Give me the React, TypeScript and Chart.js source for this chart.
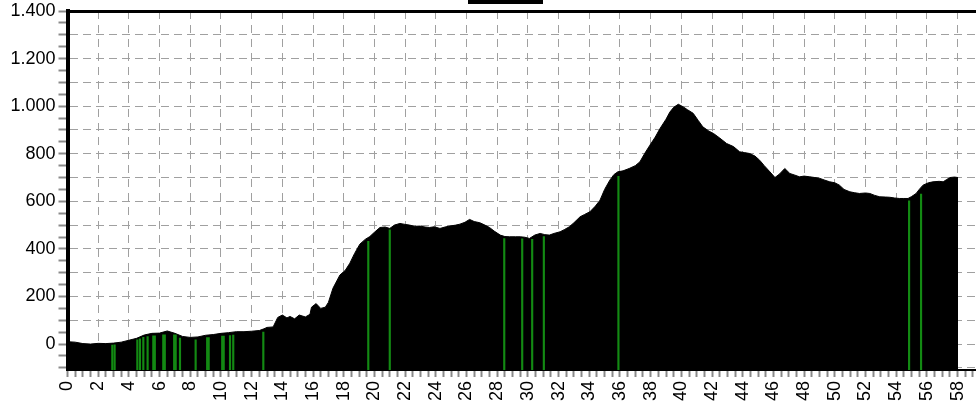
import React, { useEffect, useRef } from "react";
import { Chart, registerables } from "chart.js";

Chart.register(...registerables);

// Distance along the route (km)
const KM = [
  0, 0.5, 1.0, 1.5, 2.0, 2.5, 3.0, 3.5, 4.0, 4.5, 5.0, 5.5, 6.0, 6.5, 7.0, 7.5, 8.0, 8.5, 9.0, 9.5,
  10.0, 10.5, 11.0, 11.5, 12.0, 12.5, 12.8, 13.0, 13.4, 13.7, 14.0, 14.3, 14.5, 14.8, 15.1, 15.5, 15.8, 15.9, 16.2, 16.5,
  16.8, 17.0, 17.3, 17.75, 18.1, 18.4, 18.7, 19.05, 19.4, 19.7, 20.0, 20.36, 20.7, 21.0, 21.3, 21.66, 22.0, 22.3, 22.6, 22.96,
  23.3, 23.6, 23.9, 24.27, 24.6, 24.9, 25.3, 25.57, 25.9, 26.2, 26.5, 26.87, 27.2, 27.5, 27.8, 28.2, 28.5, 28.8, 29.2, 29.5,
  29.8, 30.1, 30.45, 30.8, 31.1, 31.4, 31.7, 32.1, 32.4, 32.7, 33.0, 33.4, 33.7, 34.04, 34.4, 34.7, 35.0, 35.34, 35.6, 35.86,
  36.2, 36.6, 37.0, 37.3, 37.6, 37.95, 38.3, 38.6, 39.0, 39.25, 39.5, 39.8, 40.1, 40.4, 40.77, 41.1, 41.4, 41.8, 42.1, 42.5,
  42.95, 43.4, 43.8, 44.1, 44.45, 44.8, 45.1, 45.4, 45.77, 46.1, 46.4, 46.74, 47.07, 47.4, 47.7, 48.0, 48.37, 48.7, 49.0, 49.3,
  49.67, 50.0, 50.3, 50.6, 50.98, 51.3, 51.6, 52.0, 52.28, 52.6, 52.93, 53.3, 53.58, 53.9, 54.2, 54.5, 54.77, 55.0, 55.3, 55.5,
  55.75, 56.1, 56.4, 56.8, 57.06, 57.3, 57.5, 57.8, 58.03,
];

// Elevation (m)
const ELEVATION = [
  10, 8, 2, 0, 3, 2, 4, 8, 16, 24, 38, 45, 46, 55, 45, 32, 28, 30, 37, 40,
  45, 48, 52, 52, 54, 57, 64, 70, 72, 112, 122, 110, 116, 106, 122, 114, 125, 155, 170, 150,
  155, 175, 235, 290, 310, 340, 380, 420, 440, 452, 470, 490, 492, 486, 500, 507, 503, 500, 495, 496,
  492, 490, 493, 486, 492, 496, 500, 504, 512, 524, 515, 510, 500, 490, 475, 458, 452, 451, 451, 451,
  449, 444, 458, 465, 460, 458, 465, 472, 482, 493, 510, 535, 545, 556, 580, 605, 650, 689, 712, 724,
  728, 738, 750, 766, 800, 836, 870, 905, 945, 975, 995, 1008, 998, 985, 970, 940, 913, 895, 885, 866,
  843, 830, 808, 805, 801, 790, 773, 750, 724, 700, 715, 738, 717, 710, 703, 706, 703, 700, 697, 690,
  682, 678, 668, 650, 640, 636, 633, 635, 633, 625, 619, 618, 617, 614, 612, 612, 612, 620, 633, 650,
  668, 678, 682, 684, 682, 692, 700, 702, 700,
];

// Green waypoint markers (thin): position (km) and top (m)
const MARKER_KM = [
  2.92, 3.07, 4.55, 4.72, 4.94, 5.22, 7.33, 8.35, 10.59, 10.8, 12.76,
  19.6, 21.0, 28.46, 29.63, 30.28, 31.04, 35.9, 54.84, 55.62,
];
const MARKER_TOP = [
  -4, -3, 18, 22, 28, 32, 25, 18, 36, 38, 50,
  432, 480, 443, 442, 440, 452, 705, 602, 630,
];

// Green waypoint markers (wide clusters): position (km) and top (m)
const WIDE_MARKER_KM = [5.64, 6.29, 7.0, 9.15, 10.13];
const WIDE_MARKER_TOP = [35, 39, 39, 27, 34];

const Y_MIN = -109;
const Y_MAX = 1400;
const Y_TICK_STEP = 50;
const Y_GRID_STEP = 100;
const Y_LABEL_STEP = 200;
const X_MIN = 0;
const X_MAX = 59.2;
const X_TICK_STEP = 0.5;
const X_LABEL_STEP = 2;

const fmtDe = (v: number) => String(v).replace(/\B(?=(\d{3})+(?!\d))/g, ".");

export default function App() {
  const ref = useRef<HTMLCanvasElement | null>(null);

  useEffect(() => {
    const canvas = ref.current;
    if (!canvas) return;

    const legendBar = {
      id: "legendBar",
      afterDraw(chart: any) {
        const c = chart.ctx;
        c.save();
        c.fillStyle = "#000";
        c.fillRect(468, 0, 75, 4);
        c.restore();
      },
    };

    const profile = KM.map((x, i) => ({ x, y: ELEVATION[i] }));
    const markers = MARKER_KM.map((x, i) => ({ x, y: [Y_MIN, MARKER_TOP[i]] }));
    const wideMarkers = WIDE_MARKER_KM.map((x, i) => ({ x, y: [Y_MIN, WIDE_MARKER_TOP[i]] }));

    const font = { family: "'Liberation Sans', Arial, sans-serif", size: 18 };

    const chart = new Chart(canvas, {
      type: "line",
      data: {
        datasets: [
          {
            type: "bar",
            label: "markers",
            data: markers as any,
            backgroundColor: "#138a13",
            borderWidth: 0,
            barThickness: 1.5,
            grouped: false,
            order: 1,
          } as any,
          {
            type: "bar",
            label: "markers wide",
            data: wideMarkers as any,
            backgroundColor: "#138a13",
            borderWidth: 0,
            barThickness: 3,
            grouped: false,
            order: 1,
          } as any,
          {
            type: "line",
            label: "Höhe",
            data: profile,
            borderColor: "#000",
            backgroundColor: "#000",
            borderWidth: 1,
            pointRadius: 0,
            tension: 0,
            fill: "start",
            order: 2,
          },
        ],
      },
      options: {
        responsive: false,
        animation: false,
        layout: { padding: { top: 11, right: 0, bottom: 0, left: 0 } },
        plugins: {
          legend: { display: false },
          tooltip: { enabled: false },
        },
        scales: {
          x: {
            type: "linear",
            min: X_MIN,
            max: X_MAX,
            offset: false,
            afterBuildTicks: (s: any) => {
              const t = [];
              for (let v = X_MIN; v <= X_MAX + 1e-9; v += X_TICK_STEP) t.push({ value: v });
              s.ticks = t;
            },
            afterFit: (s: any) => {
              s.height = 40;
              s.paddingLeft = 0;
              s.paddingRight = 0;
            },
            ticks: {
              autoSkip: false,
              minRotation: 90,
              maxRotation: 90,
              padding: 4,
              color: "#000",
              font,
              callback: (v: any) => (Math.abs(v % X_LABEL_STEP) < 1e-9 ? String(v) : ""),
            },
            grid: {
              offset: false,
              color: (c: any) =>
                c.tick && Math.abs(c.tick.value % X_LABEL_STEP) < 1e-9 ? "#a0a0a0" : "rgba(0,0,0,0)",
              lineWidth: 1,
              tickColor: "#8a8a8a",
              tickLength: 7,
              tickWidth: 2,
            },
            border: { color: "#000", width: 2, dash: [8, 6] },
          },
          xTop: {
            type: "linear",
            position: "top",
            min: X_MIN,
            max: X_MAX,
            afterFit: (s: any) => {
              s.height = 0;
              s.paddingLeft = 0;
              s.paddingRight = 0;
            },
            ticks: { display: false },
            grid: { display: false, drawTicks: false },
            border: { color: "#000", width: 3 },
          },
          y: {
            type: "linear",
            min: Y_MIN,
            max: Y_MAX,
            afterBuildTicks: (s: any) => {
              const t = [];
              for (let v = -100; v <= Y_MAX; v += Y_TICK_STEP) t.push({ value: v });
              s.ticks = t;
            },
            afterFit: (s: any) => {
              s.width = 67.5;
              s.paddingTop = 0;
              s.paddingBottom = 0;
            },
            ticks: {
              autoSkip: false,
              padding: 3,
              color: "#000",
              font,
              callback: (v: any) => (v % Y_LABEL_STEP === 0 ? fmtDe(v) : ""),
            },
            grid: {
              color: (c: any) =>
                c.tick && c.tick.value % Y_GRID_STEP === 0 ? "#a0a0a0" : "rgba(0,0,0,0)",
              lineWidth: 1,
              tickColor: "#8a8a8a",
              tickLength: 9,
              tickWidth: 2,
            },
            border: { color: "#000", width: 4, dash: [8, 5] },
          },
        },
      },
      plugins: [legendBar],
    } as any);

    return () => chart.destroy();
  }, []);

  return (
    <div style={{ position: "fixed", left: 0, top: 0, width: 976, height: 410, overflow: "hidden", background: "#fff" }}>
      <canvas ref={ref} width={976} height={410} style={{ display: "block" }} />
    </div>
  );
}
